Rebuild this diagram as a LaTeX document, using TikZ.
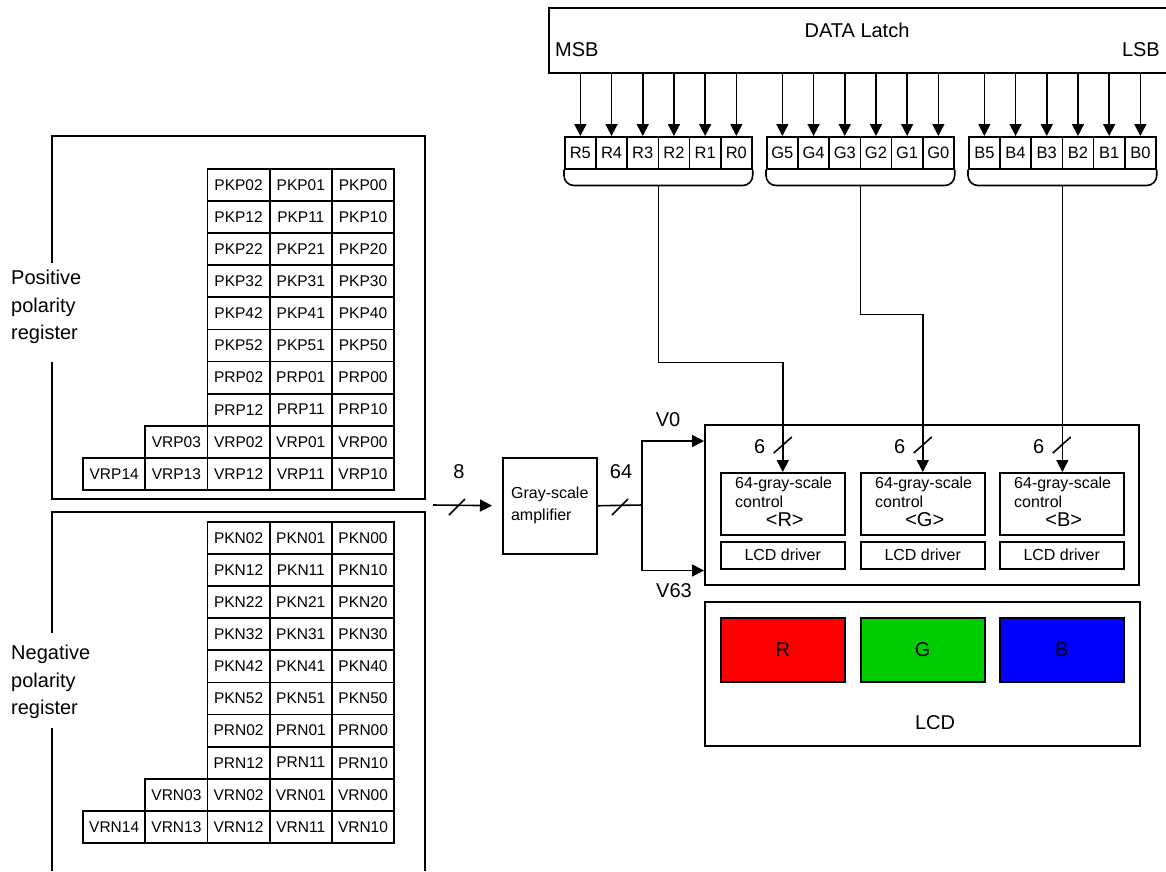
\documentclass[tikz,border=0pt]{standalone}
\usepackage{fontspec}
\setmainfont{Liberation Sans}
\usetikzlibrary{arrows.meta,calc}
\definecolor{lcdR}{RGB}{255,0,0}
\definecolor{lcdG}{RGB}{0,204,0}
\definecolor{lcdB}{RGB}{0,0,255}
\begin{document}
\begin{tikzpicture}[x=1pt,y=-1pt,
  wire/.style={line width=1.6pt},
  arr/.style={wire,-{Triangle[length=12pt,width=12pt]}},
  box/.style={draw,line width=1.5pt,inner sep=0pt,anchor=north west},
  frame/.style={line width=1.6pt},
  cell/.style={draw,line width=1.8pt,minimum width=62.2pt,minimum height=32.1pt,inner sep=0pt,anchor=north west,font=\fontsize{15.5}{18}\selectfont},
  bit/.style={draw,line width=1.5pt,minimum width=31.2pt,minimum height=32pt,inner sep=0pt,anchor=north west,font=\fontsize{16.5}{19}\selectfont},
  lbl/.style={font=\fontsize{20}{24}\selectfont,inner sep=0pt},
  reglbl/.style={font=\fontsize{20}{27.5}\selectfont,inner sep=0pt,align=left,anchor=west},
  small/.style={font=\fontsize{16}{19}\selectfont,inner sep=0pt},
]
\useasboundingbox (0,0) rectangle (1166,871);

% ---------- register frames ----------
\draw[frame] (52,263) -- (52,136) -- (425,136) -- (425,499) -- (52,499) -- (52,362);
\draw[frame] (52,633) -- (52,512) -- (425,512) -- (425,871);
\draw[frame] (52,728) -- (52,871);
\node[reglbl] (plabel) at (11,307) {Positive\\polarity\\register};
\node[reglbl] (nlabel) at (11,682) {Negative\\polarity\\register};

% ---------- positive table ----------
\foreach \nm [count=\i from 0] in {PKP0,PKP1,PKP2,PKP3,PKP4,PKP5,PRP0,PRP1}{
  \foreach \d [count=\j from 0] in {2,1,0}{
    \node[cell] (\nm\d) at ({206.6+62.2*\j},{168+32.1*\i}) {\nm\d};
  }
}
\foreach \d [count=\j from 0] in {3,2,1,0}{
  \node[cell] (VRP0\d) at ({144.4+62.2*\j},{168+32.1*8}) {VRP0\d};
}
\foreach \d [count=\j from 0] in {4,3,2,1,0}{
  \node[cell] (VRP1\d) at ({82.2+62.2*\j},{168+32.1*9}) {VRP1\d};
}

% ---------- negative table ----------
\foreach \nm [count=\i from 0] in {PKN0,PKN1,PKN2,PKN3,PKN4,PKN5,PRN0,PRN1}{
  \foreach \d [count=\j from 0] in {2,1,0}{
    \node[cell] (\nm\d) at ({206.6+62.2*\j},{521+32.1*\i}) {\nm\d};
  }
}
\foreach \d [count=\j from 0] in {3,2,1,0}{
  \node[cell] (VRN0\d) at ({144.4+62.2*\j},{521+32.1*8}) {VRN0\d};
}
\foreach \d [count=\j from 0] in {4,3,2,1,0}{
  \node[cell] (VRN1\d) at ({82.2+62.2*\j},{521+32.1*9}) {VRN1\d};
}

% ---------- gray-scale amplifier ----------
\node[box,minimum width=94pt,minimum height=96pt,align=left,font=\fontsize{16}{22}\selectfont] (amp) at (502,457) {Gray-scale\\amplifier};
\coordinate (in8) at (433,505);
\draw[arr,shorten >=10pt] (in8) -- (amp.west);
\draw[wire] (449,515) -- (465,499);
\node[lbl] (l8) at (459,472) {8};
\coordinate (split) at (642,505);
\draw[wire] (amp.east) -- (split);
\draw[wire] (612,515) -- (628,499);
\node[lbl] (l64) at (621,472) {64};

% ---------- driver block ----------
\node[box,minimum width=434pt,minimum height=160pt] (drv) at (704,424) {};
\draw[arr] (split) |- ($(drv.north west)+(0,17)$);
\draw[arr] (split) |- ($(drv.south west)+(0,-15)$);
\node[lbl] (lv0) at (668,420) {V0};
\node[lbl] (lv63) at (674,591) {V63};

\foreach \c/\xs in {R/720,G/860,B/999}{
  \node[box,minimum width=124pt,minimum height=62pt] (ctl\c) at (\xs,472) {};
  \node[small,align=left,anchor=west] (ctt\c) at ($(ctl\c.north west)+(15,20.5)$) {64-gray-scale\\control};
  \node[lbl] (ctc\c) at ($(ctl\c.north)+(2,48)$) {<\c>};
  \node[box,minimum width=124pt,minimum height=27pt,font=\fontsize{16}{19}\selectfont] (drv\c) at (\xs,541) {LCD driver};
}

% ---------- LCD ----------
\node[box,minimum width=435pt,minimum height=144pt] (lcd) at (704,601) {};
\node[lbl] (lcdtxt) at (935,723) {LCD};
\node[box,fill=lcdR,minimum width=124pt,minimum height=64pt,font=\fontsize{20}{24}\selectfont] (lcdr) at (720,617) {R};
\node[box,fill=lcdG,minimum width=124pt,minimum height=64pt,font=\fontsize{20}{24}\selectfont] (lcdg) at (860,617) {G};
\node[box,fill=lcdB,minimum width=124pt,minimum height=64pt,font=\fontsize{20}{24}\selectfont] (lcdb) at (999,617) {B};

% ---------- data latch ----------
\node[box,minimum width=618pt,minimum height=65pt] (latch) at (548,7) {};
\node[lbl] (dl) at (857,30) {DATA Latch};
\node[lbl,anchor=west] (msb) at (555,50) {MSB};
\node[lbl,anchor=east] (lsb) at (1160,50) {LSB};

\foreach \g/\xs in {R/564,G/766,B/968}{
  \foreach \b [count=\j from 0] in {5,4,3,2,1,0}{
    \node[bit] (\g\b) at ({\xs+31.2*\j},136) {\g\b};
    \draw[arr] (\g\b.north |- latch.south) -- (\g\b.north);
  }
  \draw[wire,rounded corners=10pt] (\g5.south west) -- ++(0,16) -| (\g0.south east);
  \coordinate (\g bus) at ($(\g5.south west)!0.5!(\g0.south east)+(0,16)$);
}

% ---------- buses to gray-scale controls ----------
\draw[arr] (Rbus) -- ++(0,177) -| (ctlR.north);
\draw[arr] (Gbus) -- ++(0,129) -| (ctlG.north);
\draw[arr] (Bbus) -- (Bbus |- ctlB.north);
\foreach \c in {R,G,B}{
  \draw[wire] ($(ctl\c.north)+(-9,-19)$) -- ++(18,-16);
  \node[lbl] (six\c) at ($(ctl\c.north)+(-23,-25)$) {6};
}
\end{tikzpicture}
\end{document}
